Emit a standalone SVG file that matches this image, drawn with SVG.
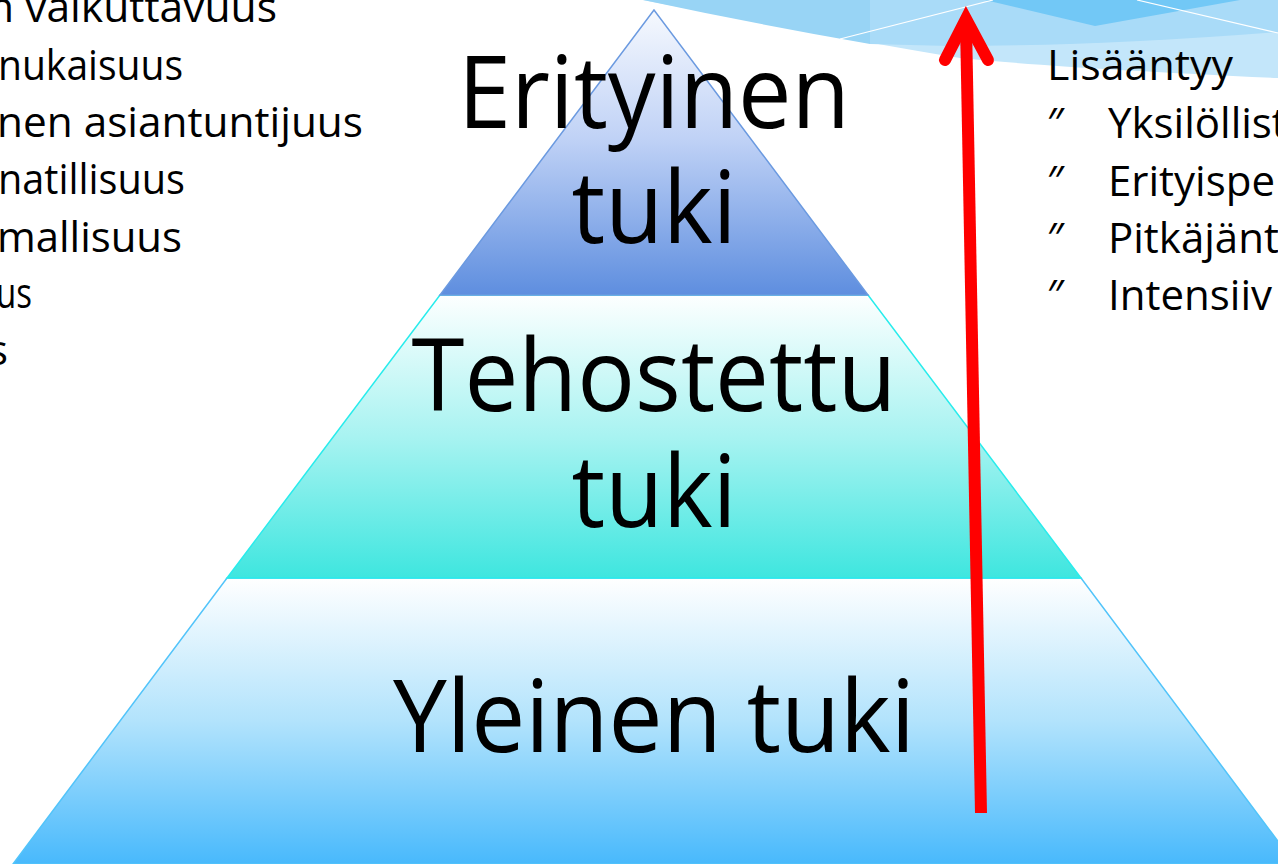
<svg xmlns="http://www.w3.org/2000/svg" width="1278" height="864" viewBox="0 0 1278 864">
<style>
.big{font-family:"Open Sans","Liberation Sans",sans-serif;font-size:100px;fill:#000;text-anchor:middle}
.sm{font-family:"Open Sans","Liberation Sans",sans-serif;font-size:42px;fill:#000}
.arrow{stroke:#ff0000;stroke-width:12;fill:none}
</style>
<defs>
<linearGradient id="gTop" x1="0" y1="0" x2="0" y2="1">
<stop offset="0" stop-color="#f6f9fe"/>
<stop offset="0.45" stop-color="#c0d2f6"/>
<stop offset="1" stop-color="#5e8edf"/>
</linearGradient>
<linearGradient id="gMid" x1="0" y1="0" x2="0" y2="1">
<stop offset="0" stop-color="#fdffff"/>
<stop offset="0.5" stop-color="#a8f3f1"/>
<stop offset="1" stop-color="#3ee6df"/>
</linearGradient>
<linearGradient id="gBot" x1="0" y1="0" x2="0" y2="1">
<stop offset="0" stop-color="#ffffff"/>
<stop offset="0.5" stop-color="#b2e3fc"/>
<stop offset="1" stop-color="#48b9fc"/>
</linearGradient>
</defs>
<rect width="1278" height="864" fill="#ffffff"/>
<g id="background-band">
<path d="M643 0 L1278 0 L1278 78 Q1060 68 960 58 Q850 40 643 0 Z" fill="#c3e6fa"/>
<path d="M870 0 L1278 0 L1278 32 Q1100 46 950 46 L870 44 Z" fill="#a9dbf8"/>
<path d="M643 0 L870 0 L870 44 Q760 25 643 0 Z" fill="#98d4f5"/>
<path d="M985 0 L1240 0 L1095 26 Z" fill="#72c8f6"/>
<line x1="840" y1="39" x2="993" y2="0" stroke="#ffffff" stroke-width="1.2"/>
<line x1="1137" y1="0" x2="1278" y2="33" stroke="#ffffff" stroke-width="1.2"/>
</g>
<g id="tier-bottom">
<polygon points="227,578 1081,578 1295,864 13,864" fill="url(#gBot)" stroke="#52c4fa" stroke-width="1.5"/>
<text class="big" x="654" y="752" textLength="522" lengthAdjust="spacingAndGlyphs">Yleinen tuki</text>
</g>
<g id="tier-middle">
<polygon points="440,295 868,295 1081,578 227,578" fill="url(#gMid)" stroke="#28ecec" stroke-width="1.5"/>
<text class="big" x="654" y="411" textLength="485" lengthAdjust="spacingAndGlyphs">Tehostettu</text>
<text class="big" x="654" y="527" textLength="165" lengthAdjust="spacingAndGlyphs">tuki</text>
</g>
<g id="tier-top">
<polygon points="654,10 440,295 868,295" fill="url(#gTop)" stroke="#6b9ae0" stroke-width="1.5"/>
<text class="big" x="654" y="128" textLength="392" lengthAdjust="spacingAndGlyphs">Erityinen</text>
<text class="big" x="654" y="243" textLength="165" lengthAdjust="spacingAndGlyphs">tuki</text>
</g>
<g id="left-list">
<text class="sm" x="-12" y="22" textLength="289" lengthAdjust="spacingAndGlyphs">n vaikuttavuus</text>
<text class="sm" x="-2" y="80" textLength="185" lengthAdjust="spacingAndGlyphs">nukaisuus</text>
<text class="sm" x="-3" y="137" textLength="366" lengthAdjust="spacingAndGlyphs">nen asiantuntijuus</text>
<text class="sm" x="-2" y="194" textLength="187" lengthAdjust="spacingAndGlyphs">natillisuus</text>
<text class="sm" x="-3" y="252" textLength="185" lengthAdjust="spacingAndGlyphs">mallisuus</text>
<text class="sm" x="-4" y="308" textLength="36" lengthAdjust="spacingAndGlyphs">us</text>
<text class="sm" x="-12" y="365" textLength="20" lengthAdjust="spacingAndGlyphs">s</text>
</g>
<g id="right-list">
<text class="sm" x="1047" y="80" textLength="186" lengthAdjust="spacingAndGlyphs">Lisääntyy</text>
<text class="sm" x="1047" y="138">″</text>
<text class="sm" x="1108" y="138">Yksilöllist</text>
<text class="sm" x="1047" y="196">″</text>
<text class="sm" x="1108" y="196">Erityispe</text>
<text class="sm" x="1047" y="253">″</text>
<text class="sm" x="1108" y="253">Pitkäjänt</text>
<text class="sm" x="1047" y="310">″</text>
<text class="sm" x="1108" y="310">Intensiiv</text>
</g>
<g id="connectors">
<line class="arrow" x1="981" y1="813" x2="966" y2="24"/>
<polyline class="arrow" points="945,60 966,19 988,60" stroke-linecap="round" stroke-linejoin="miter"/>
</g>
</svg>
